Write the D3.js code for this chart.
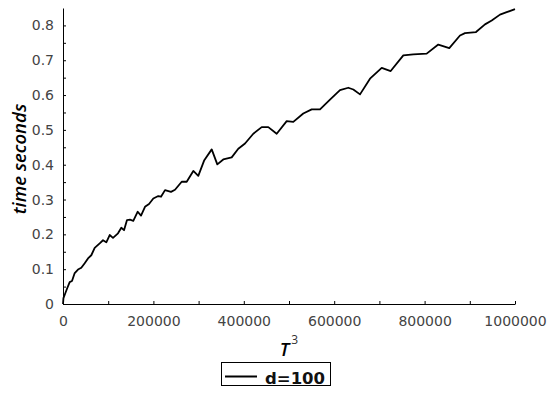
<!DOCTYPE html>
<html>
<head>
<meta charset="utf-8">
<script src="https://cdn.jsdelivr.net/npm/d3@7"></script>
<style>
  body { margin: 0; background: #fff; }
</style>
</head>
<body>
<div id="chart-container"></div>
<script>
const width = 554;
const height = 400;

const cubes = [0, 1000, 5100, 9500, 14800, 19900, 25900, 33200, 40500, 48000,
    55300, 62600, 70100, 81200, 88500, 95800, 103300, 110600, 121700, 129000,
    135000, 141600, 148200, 155500, 165300, 172600, 181400, 190300, 199800, 210800,
    216800, 225700, 238900, 247800, 262600, 273700, 288300, 299300, 312600, 329000,
    341400, 354600, 373200, 387800, 402700, 421000, 439600, 454200, 472800, 494900,
    509500, 531600, 550200, 568600, 590700, 612800, 631200, 642300, 657100, 679200,
    705100, 725000, 752900, 775000, 804600, 830300, 854600, 878300, 889400, 913700,
    933600, 948500, 966800, 981600, 1000000];
const times = [0, 0.017, 0.031, 0.046, 0.063, 0.066, 0.089, 0.099, 0.104, 0.117,
    0.131, 0.140, 0.161, 0.174, 0.183, 0.177, 0.198, 0.190, 0.203, 0.219,
    0.212, 0.241, 0.242, 0.239, 0.265, 0.254, 0.279, 0.287, 0.303, 0.310,
    0.308, 0.327, 0.322, 0.328, 0.351, 0.351, 0.382, 0.368, 0.413, 0.444,
    0.401, 0.415, 0.421, 0.446, 0.461, 0.489, 0.508, 0.508, 0.489, 0.525,
    0.523, 0.547, 0.559, 0.559, 0.587, 0.614, 0.621, 0.616, 0.602, 0.647,
    0.678, 0.669, 0.714, 0.717, 0.719, 0.745, 0.735, 0.771, 0.778, 0.781,
    0.803, 0.814, 0.831, 0.838, 0.847];

const xTicks = [0, 200000, 400000, 600000, 800000, 1000000];
const xMinor = [100000, 300000, 500000, 700000, 900000];
const yTicks = [0, 0.1, 0.2, 0.3, 0.4, 0.5, 0.6, 0.7, 0.8];
const yMinor = [0.05, 0.15, 0.25, 0.35, 0.45, 0.55, 0.65, 0.75];
const seriesName = "d=100";

const x = d3.scaleLinear([0, 1000000], [63, 515]);
const y = d3.scaleLinear([0, 0.85], [304, 8]);

const svg = d3.select("#chart-container")
    .append("svg")
    .attr("width", width)
    .attr("height", height)
    .attr("viewBox", [0, 0, width, height]);

const tickFont = g => g
    .attr("font-family", "'DejaVu Sans', sans-serif")
    .attr("font-size", 14)
    .call(g => g.selectAll("text").attr("fill", "#444"))
    .call(g => g.selectAll("line, path").attr("stroke", "#000"));

// x axis
svg.append("g")
    .attr("transform", `translate(0,${y(0)})`)
    .call(d3.axisBottom(x).tickValues(xTicks).tickFormat(d3.format("d"))
        .tickSizeInner(-3).tickSizeOuter(0).tickPadding(12))
    .call(tickFont);
svg.append("g")
    .attr("transform", `translate(0,${y(0)})`)
    .call(d3.axisBottom(x).tickValues(xMinor).tickFormat("")
        .tickSizeInner(-3).tickSizeOuter(0))
    .call(g => g.select(".domain").remove());

// y axis
svg.append("g")
    .attr("transform", `translate(${x(0)},0)`)
    .call(d3.axisLeft(y).tickValues(yTicks).tickFormat(d => d === 0 ? "0" : d3.format(".1f")(d))
        .tickSizeInner(-3).tickSizeOuter(0).tickPadding(9))
    .call(tickFont);
svg.append("g")
    .attr("transform", `translate(${x(0)},0)`)
    .call(d3.axisLeft(y).tickValues(yMinor).tickFormat("")
        .tickSizeInner(-3).tickSizeOuter(0))
    .call(g => g.select(".domain").remove());

// the curve
const line = d3.line()
    .x((d, i) => x(cubes[i]))
    .y(d => y(d));

svg.append("path")
    .datum(times)
    .attr("fill", "none")
    .attr("stroke", "#000")
    .attr("stroke-width", 1.8)
    .attr("stroke-linejoin", "round")
    .attr("d", line);

// axis titles
svg.append("text")
    .attr("transform", "rotate(-90)")
    .attr("x", -159)
    .attr("y", 26)
    .attr("text-anchor", "middle")
    .attr("font-family", "'Open Sans', sans-serif")
    .attr("font-style", "italic")
    .attr("font-weight", 600)
    .attr("font-size", 18.5)
    .attr("fill", "#000")
    .text("time seconds");

const xt = svg.append("text")
    .attr("x", 289)
    .attr("y", 356)
    .attr("text-anchor", "middle")
    .attr("font-family", "'Open Sans', sans-serif")
    .attr("font-style", "italic")
    .attr("font-weight", 600)
    .attr("font-size", 18.5)
    .attr("fill", "#000");
xt.append("tspan").text("T");
xt.append("tspan")
    .attr("dy", -12)
    .attr("dx", 2)
    .attr("font-size", 12)
    .attr("font-style", "normal")
    .attr("font-weight", 400)
    .attr("fill", "#333")
    .text("3");

// legend
const legend = svg.append("g");
legend.append("rect")
    .attr("x", 221.5)
    .attr("y", 362.5)
    .attr("width", 109)
    .attr("height", 23)
    .attr("fill", "#fff")
    .attr("stroke", "#000");
legend.append("line")
    .attr("x1", 225)
    .attr("x2", 257)
    .attr("y1", 376.5)
    .attr("y2", 376.5)
    .attr("stroke", "#000")
    .attr("stroke-width", 2);
legend.append("text")
    .attr("x", 265)
    .attr("y", 384)
    .attr("font-family", "'DejaVu Sans', sans-serif")
    .attr("font-weight", 600)
    .attr("font-size", 16.5)
    .attr("fill", "#111")
    .text(seriesName);
</script>
</body>
</html>
